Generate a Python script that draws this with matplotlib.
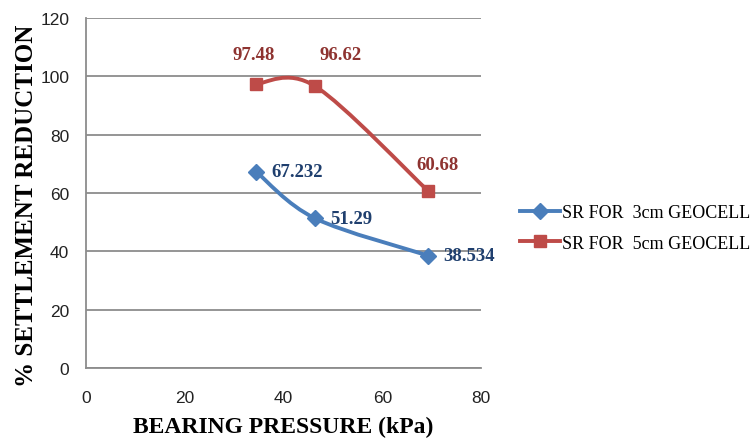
import numpy as np
import matplotlib
matplotlib.use("Agg")
import matplotlib.pyplot as plt
from matplotlib.path import Path
from matplotlib.patches import PathPatch

# Data
pressure = [34.5, 46.4, 69.3]
sr_3cm = [67.232, 51.29, 38.534]
sr_5cm = [97.48, 96.62, 60.68]
series_names = ["SR FOR  3cm GEOCELL", "SR FOR  5cm GEOCELL"]
x_ticks = [0, 20, 40, 60, 80]
y_ticks = [0, 20, 40, 60, 80, 100, 120]

BLUE = "#4A7EBB"
RED = "#BE4B48"
BLUE_TXT = "#1F3F6E"
RED_TXT = "#8E3330"
GRID = "#8C8C8C"
SERIF = "Liberation Serif"
SANS = "Liberation Sans"
PX = 0.72  # points per pixel at 100 dpi

# label placement (pixels from the marker centre)
red_label_offsets = [(-3, 29), (25, 32), (9, 27)]
blue_label_offset = (15, 0)


def smooth_path(xs, ys):
    """Cubic Bezier smoothing through points (spreadsheet-style)."""
    pts = np.column_stack([xs, ys]).astype(float)
    n = len(pts)
    verts = [pts[0]]
    codes = [Path.MOVETO]
    for i in range(n - 1):
        p_prev = pts[i - 1] if i > 0 else pts[i]
        p0 = pts[i]
        p1 = pts[i + 1]
        p_next = pts[i + 2] if i + 2 < n else pts[i + 1]
        c1 = p0 + (p1 - p_prev) / 6.0
        c2 = p1 - (p_next - p0) / 6.0
        verts += [c1, c2, p1]
        codes += [Path.CURVE4] * 3
    return Path(verts, codes)


fig = plt.figure(figsize=(7.56, 4.39), dpi=100)
ax = fig.add_axes([86 / 756, 1 - 369 / 439, (481 - 86) / 756, (369 - 19) / 439])

ax.set_xlim(0, 80)
ax.set_ylim(0, 120)
ax.set_xticks(x_ticks)
ax.set_yticks(y_ticks)
ax.yaxis.grid(True, color=GRID, lw=1.3)
ax.set_axisbelow(True)
for s in ["top", "right"]:
    ax.spines[s].set_visible(False)
for s in ["left", "bottom"]:
    ax.spines[s].set_color(GRID)
    ax.spines[s].set_linewidth(1.3)
ax.tick_params(length=0, labelsize=12.5, labelcolor="#222222")
ax.tick_params(axis="x", pad=15.5)
ax.tick_params(axis="y", pad=12)
for lab in ax.get_xticklabels() + ax.get_yticklabels():
    lab.set_fontfamily(SANS)

for ys, color, marker, ms, name in [
    (sr_3cm, BLUE, "D", 8, series_names[0]),
    (sr_5cm, RED, "s", 9, series_names[1]),
]:
    ax.add_patch(PathPatch(smooth_path(pressure, ys), fc="none", ec=color,
                           lw=2.8, capstyle="round", zorder=3))
    ax.plot(pressure, ys, ls="none", marker=marker, ms=ms, color=color,
            zorder=4)
    ax.plot([], [], color=color, lw=2.8, marker=marker, ms=ms, label=name)

# value labels
for x, y, (dx, dy) in zip(pressure, sr_5cm, red_label_offsets):
    ax.annotate(f"{y:g}", (x, y), xytext=(dx * PX, dy * PX),
                textcoords="offset points", ha="center", va="center",
                fontsize=13.5, fontweight="bold", family=SERIF, color=RED_TXT)
for x, y in zip(pressure, sr_3cm):
    ax.annotate(f"{y:g}", (x, y),
                xytext=(blue_label_offset[0] * PX, blue_label_offset[1] * PX),
                textcoords="offset points", ha="left", va="center",
                fontsize=13.5, fontweight="bold", family=SERIF, color=BLUE_TXT)

ax.set_xlabel("BEARING PRESSURE (kPa)", fontsize=17, fontweight="bold",
              family=SERIF, labelpad=8.5)
ax.set_ylabel("% SETTLEMENT REDUCTION", fontsize=18, fontweight="bold",
              family=SERIF)
ax.yaxis.set_label_coords(-0.121, 1 - (206 - 19) / 350)

leg = ax.legend(loc="center left", bbox_to_anchor=(1.081, 0.40), frameon=False,
                prop={"family": SERIF, "size": 13}, handlelength=2.2,
                handletextpad=0.1, labelspacing=0.75, borderaxespad=0)

fig.savefig("out.png", dpi=100)
